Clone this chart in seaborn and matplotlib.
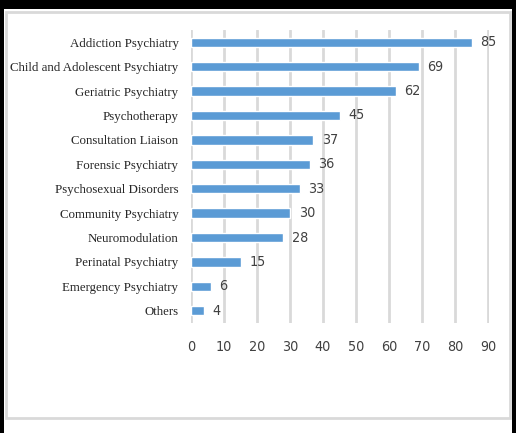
import matplotlib
matplotlib.use("Agg")
import matplotlib.pyplot as plt
import seaborn as sns
import pandas as pd
from matplotlib.patches import Rectangle

categories = ["Addiction Psychiatry", "Child and Adolescent Psychiatry", "Geriatric Psychiatry",
              "Psychotherapy", "Consultation Liaison", "Forensic Psychiatry",
              "Psychosexual Disorders", "Community Psychiatry", "Neuromodulation",
              "Perinatal Psychiatry", "Emergency Psychiatry", "Others"]
values = [85, 69, 62, 45, 37, 36, 33, 30, 28, 15, 6, 4]
xticks = [0, 10, 20, 30, 40, 50, 60, 70, 80, 90]

df = pd.DataFrame({"category": categories, "value": values})

sns.set_theme(style="white")
W, H = 516, 433
fig = plt.figure(figsize=(W / 100, H / 100), dpi=100)
fig.patch.set_facecolor("white")

# outer black frame parts and light gray inner border
fig.add_artist(Rectangle((0, 0), 4 / W, 1, transform=fig.transFigure, color="black", lw=0))
fig.add_artist(Rectangle((0, 1 - 9 / H), 512 / W, 9 / H, transform=fig.transFigure, color="black", lw=0))
fig.add_artist(Rectangle((512 / W, 0), 4 / W, 1, transform=fig.transFigure, color="black", lw=0))
fig.add_artist(Rectangle((6 / W, 1 - 418 / H), 504 / W, 406 / H, transform=fig.transFigure,
                         fill=False, edgecolor="#D9D9D9", lw=2))

ax = fig.add_axes([191 / W, 1 - 323 / H, (489 - 191) / W, (323 - 30) / H])
sns.barplot(data=df, y="category", x="value", orient="h", color="#5B9BD5",
            saturation=1, width=0.38, ax=ax)

num_font = dict(family="DejaVu Sans", stretch="condensed", fontsize=10.3, color="#404040")

ax.set_xlim(0, 90.3)
ax.set_ylim(11.5, -0.5)
ax.set_xticks(xticks)
ax.set_xticklabels([str(t) for t in xticks], **num_font)
ax.grid(axis="x", color="#D9D9D9", lw=2)
ax.set_axisbelow(True)
for s in ax.spines.values():
    s.set_visible(False)
ax.tick_params(axis="both", length=0)
ax.tick_params(axis="x", pad=12)
ax.tick_params(axis="y", pad=9)
for lab in ax.get_yticklabels():
    lab.set_family("Liberation Serif")
    lab.set_fontsize(9.3)
    lab.set_color("#262626")
ax.set_xlabel("")
ax.set_ylabel("")

for i, v in enumerate(values):
    ax.text(v + 2.6, i, str(v), va="center", ha="left", **num_font)

fig.savefig("out.png", dpi=100)
